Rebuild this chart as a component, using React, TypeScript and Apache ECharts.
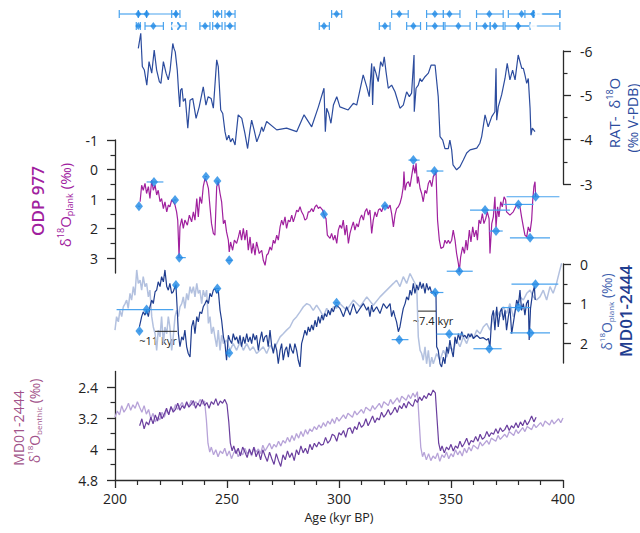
import React, { useEffect, useRef } from 'react';
import * as echarts from 'echarts';

// ---------- DATA ----------
// RAT speleothem δ18O (kyr BP, ‰)
const ratD18O: number[][] = [
  [210.4,-6.06],[211.5,-6.4],[212.2,-5.65],[213.1,-5.57],[214.2,-5.23],[215.2,-5.76],[216.4,-5.5],[217.5,-6.02],[218.6,-5.57],[219.8,-5.31],[220.5,-5.27],[221.6,-5.76],[222.8,-5.5],[223.8,-5.35],[224.6,-5.57],[225.8,-6.17],[226.3,-6.06],[226.9,-5.98],[227.8,-5.57],[228.4,-5.08],[228.9,-4.74],[229.3,-5.12],[229.9,-5.16],[230.5,-4.86],[231.4,-4.93],[232.5,-4.26],[233.5,-4.89],[234.7,-4.93],[236.2,-4.48],[237.6,-4.74],[239.4,-5.19],[240.6,-4.78],[241.6,-4.97],[242.9,-4.93],[243.9,-4.71],[245.4,-5.8],[246.1,-5.65],[247.2,-4.67],[248.1,-4.59],[249.1,-4.18],[249.9,-3.99],[250.8,-4.1],[251.6,-3.95],[252.5,-4.03],[253.6,-3.88],[255,-4.56],[256.6,-4.48],[258,-4.14],[259.2,-3.8],[260.3,-4.22],[261,-4.44],[262.1,-4.22],[263.3,-3.95],[264.7,-4.14],[265.5,-4.29],[266.2,-4.18],[267.7,-4.41],[272.2,-4.22],[276.6,-4.26],[281.1,-4.18],[284.4,-4.56],[287.8,-4.29],[290.8,-4.74],[293.3,-5.16],[293.9,-4.18],[294.5,-4.71],[295.4,-4.59],[296.4,-4.37],[297.5,-4.78],[299,-4.97],[300.4,-4.74],[304.1,-4.67],[306.4,-4.82],[307.9,-4.78],[310.8,-5.46],[312.4,-5.19],[313.5,-4.97],[314.6,-5.72],[315,-4.78],[315.6,-5.65],[316.5,-5.5],[317.5,-5.31],[318.6,-5.76],[319.5,-5.65],[320.2,-5.87],[321,-5.53],[322,-5.16],[323.5,-5.23],[325,-5.08],[327.2,-4.71],[328.7,-4.78],[330.2,-5.08],[331.4,-4.97],[332.4,-5.05],[333.5,-5.91],[333.6,-4.63],[334.4,-5.16],[335.4,-5.23],[336.2,-5.38],[336.9,-5.31],[338.4,-5.42],[339.9,-5.5],[341.1,-5.68],[342.9,-5.68],[344.3,-4.97],[345.1,-4.07],[346.3,-3.99],[347.3,-3.8],[348.8,-3.8],[349.5,-3.99],[350.3,-3.77],[350.9,-3.43],[352.5,-3.32],[354,-3.39],[355.5,-3.54],[357,-3.7],[358.5,-3.77],[361.5,-3.81],[362.9,-3.92],[363.7,-4.07],[365.2,-4.56],[366.6,-4.29],[368.2,-4.52],[369.6,-4.63],[370.1,-5.61],[370.4,-4.44],[371.1,-4.74],[372.6,-5.01],[374.1,-5.38],[375.1,-5.72],[376.3,-5.35],[377.5,-5.57],[378.6,-5.35],[380,-5.91],[381.6,-5.61],[382.3,-5.61],[383,-5.46],[383.8,-5.27],[384.5,-5.38],[385.3,-4.71],[385.7,-4.1],[386.3,-4.26],[387.5,-4.18]
];

// ODP 977 planktonic δ18O
const odpPlank: number[][] = [
  [211.2,1.09],[211.9,0.53],[212.6,0.7],[213.4,0.47],[214.1,0.81],[214.9,0.58],[215.6,0.98],[216.4,0.36],[217.1,0.7],[217.9,0.53],[218.6,0.86],[219.3,0.7],[220.1,1.09],[220.8,0.98],[221.6,1.32],[222.3,1.09],[223.1,1.43],[223.8,1.2],[224.5,1.26],[225.3,1.03],[226,1.09],[226.8,1.2],[227.5,1.43],[228,1.71],[228.6,2.96],[229,1.94],[229.8,1.66],[230.5,1.99],[231.2,1.71],[232.3,1.88],[233.2,1.54],[234.2,1.77],[235,1.43],[235.7,1.71],[236.5,0.98],[237.2,1.6],[237.9,0.92],[238.7,1.15],[239.4,0.58],[240.2,0.3],[240.9,0.41],[241.7,0.64],[242.4,1.26],[243.1,1.83],[243.9,2.16],[244.6,2.22],[245.4,0.58],[246.1,0.41],[246.9,0.81],[247.6,1.09],[248.4,1.83],[249.1,1.71],[249.8,2.11],[250.6,2.39],[251,2.79],[251.6,2.45],[252.5,2.73],[253.3,2.39],[254.3,2.5],[255.1,2.28],[255.8,2.05],[256.5,2.39],[257.3,1.99],[258,2.39],[258.8,2.05],[259.5,2.73],[260.3,2.28],[261,2.84],[261.7,2.5],[262.5,2.9],[263.2,2.45],[264.4,2.84],[265.5,2.73],[266.2,3.07],[267,3.24],[267.7,2.9],[268.4,2.84],[269.2,2.62],[269.9,2.73],[270.7,2.39],[271.4,2.5],[272.2,2.22],[272.9,2.39],[273.7,1.94],[274.4,1.71],[275.1,1.88],[275.9,1.6],[276.6,1.99],[277.4,1.71],[278.1,1.77],[278.9,1.54],[279.6,1.77],[280.3,1.6],[281.1,1.37],[281.8,1.43],[282.6,1.26],[283.3,1.43],[284.1,1.54],[284.8,1.71],[285.6,1.66],[286.3,1.43],[287,1.43],[287.8,1.32],[288.5,1.43],[289.3,1.26],[290,1.2],[290.8,1.32],[291.5,1.26],[292.7,1.37],[293.3,1.54],[294.2,1.66],[294.8,2.22],[296,2.33],[296.7,2.16],[297.5,2.39],[298.2,2.22],[299,2.5],[299.7,2.05],[300.4,1.88],[301.2,1.99],[301.9,1.71],[302.7,2.22],[303.4,1.88],[304.2,2.5],[304.9,2.16],[305.7,1.94],[306.4,1.77],[307.1,2.05],[307.9,1.83],[308.6,1.94],[309.4,1.66],[310.1,1.54],[310.9,1.71],[311.6,1.43],[312.4,1.32],[313.1,1.54],[313.8,1.37],[314.6,2.16],[315.3,1.71],[316.1,1.43],[316.8,1.6],[317.6,1.37],[318.3,1.32],[319,1.43],[319.8,1.26],[321,1.2],[322,1.32],[322.8,1.2],[323.5,1.49],[324.3,1.94],[325,1.54],[325.7,1.32],[326.5,1.26],[327.2,1.15],[328,0.92],[328.7,0.58],[329,0.07],[329.5,0.7],[330.2,0.47],[331,0.41],[331.7,0.58],[332.4,0.24],[333.2,-0.15],[333.9,0.13],[334.4,-0.21],[335,0.47],[335.4,0.24],[336.2,0.64],[336.9,0.81],[337.6,1.09],[338.4,0.7],[339.1,0.81],[339.9,0.47],[340.6,0.36],[341.4,0.58],[342.1,0.24],[342.9,0.13],[343.3,0.07],[343.6,0.81],[344,1.71],[344.8,2.39],[345.5,2.67],[346.6,2.62],[347.3,2.39],[348.1,2.5],[348.8,2.39],[349.5,2.5],[350.3,2.39],[351,2.05],[351.8,2.39],[352.5,2.84],[353.3,3.18],[353.7,3.46],[354.3,2.96],[355.2,2.62],[356,2.84],[356.7,2.39],[357.3,2.73],[358.2,2.05],[358.9,2.45],[359.7,1.94],[360.4,2.28],[361.2,2.05],[361.8,2.39],[362.5,1.71],[363.2,1.83],[364,1.49],[364.7,1.83],[365.5,1.66],[366.2,1.43],[367,1.66],[367.4,2.84],[368.2,1.83],[368.9,1.6],[369.6,0.92],[370.1,1.94],[370.8,1.26],[371.4,1.6],[372.2,1.09],[372.9,1.26],[373.7,0.92],[374.4,1.03],[374.8,1.43],[376.3,1.54],[377.8,1.43],[379.3,1.2],[380.8,1.26],[381.5,1.6],[382.3,1.94],[383,2.22],[383.8,2.28],[384.5,1.94],[385.3,2.11],[386,1.71],[386.5,1.03],[387,0.58],[387.5,0.41],[387.8,0.92]
];

// ODP 977 tie points: [age, δ18O, ageLow, ageHigh]
const odpTies: number[][] = [
  [210.7,1.24,210.2,211.2],[217.4,0.42,214.1,221.6],[226.8,1.03,226.2,227.4],[228.7,2.98,227.8,231.6],[240.6,0.24,240.1,241.1],[245.7,0.39,245.0,246.4],[251.0,3.07,249.8,252.4],[293.3,1.51,292.6,294.0],
  [320.5,1.23,319.6,321.4],[333.2,-0.32,331.0,336.0],[342.6,0.05,339.1,346.6],[353.7,3.44,348.1,359.7],[365.2,1.37,358.5,376.3],[370.1,2.08,367.1,373.1],[380.1,1.18,373.4,386.8],[385.3,2.31,376.3,394.2],[387.8,0.92,374.8,398.4]
];

// MD01-2444 planktonic δ18O (final age model, dark)
const mdPlank: number[][] = [
  [210.9,1.59],[211.9,1.33],[212.6,1.21],[213.4,1.29],[214.1,1.17],[214.9,1.33],[215.6,1.08],[216.4,0.91],[217.1,1.0],[217.9,0.7],[218.6,0.66],[219.3,0.45],[220.1,0.57],[220.8,0.32],[221.6,0.45],[222.3,0.15],[223.1,0.57],[223.8,0.66],[224.5,0.49],[225.3,0.74],[226,0.7],[226.8,0.57],[227.2,0.53],[227.8,1.17],[228.3,1.76],[229,2.09],[229.8,1.84],[230.5,1.92],[231.2,1.67],[232,2.09],[232.7,2.26],[233.5,2.35],[234.2,1.59],[235,1.42],[235.7,1.76],[236.5,1.33],[237.2,1.46],[237.9,1.21],[238.7,1.25],[239.4,1.08],[240.2,1.0],[240.9,0.91],[241.7,1.0],[242.4,0.74],[243.1,0.83],[243.9,0.66],[244.6,0.62],[245.4,0.74],[246.1,0.66],[246.9,1.17],[247.6,1.42],[248.4,1.84],[249.1,2.01],[249.8,2.43],[250.6,1.8],[251.3,1.92],[252.1,2.01],[252.8,1.76],[253.6,1.92],[254.3,1.84],[255.1,2.01],[255.8,1.8],[256.5,2.09],[257.3,1.84],[258,2.01],[258.8,1.76],[259.5,1.97],[260.3,1.84],[261,2.01],[261.7,1.76],[262.5,1.92],[263.2,1.8],[264,2.18],[264.7,1.92],[265.5,1.71],[266.2,1.97],[266.9,1.84],[267.7,1.8],[268.4,2.09],[269.2,1.67],[269.9,2.05],[270.7,2.26],[271.4,2.01],[272.2,2.18],[272.9,2.52],[273.7,2.18],[274.4,2.01],[275.1,2.43],[275.9,2.18],[276.6,2.09],[277.4,2.35],[278.1,2.01],[278.9,2.18],[279.6,2.26],[280.3,2.01],[281.1,2.18],[281.8,2.43],[282.6,2.6],[283.3,2.01],[284.1,1.84],[284.8,1.67],[285.6,1.8],[286.3,1.59],[287,1.71],[287.8,1.54],[288.5,1.67],[289.3,1.42],[290,1.59],[290.8,1.33],[291.5,1.5],[292.3,1.29],[293,1.42],[293.7,1.25],[294.5,1.33],[295.2,1.17],[296,1.29],[296.7,1.12],[297.5,1.21],[298.2,1.08],[298.9,1.04],[300.4,1.12],[302,1.33],[303.4,1.08],[304.9,1.29],[306.4,1.0],[307.9,1.25],[309.4,1.12],[310.9,1.0],[312.4,1.17],[313.1,1.08],[313.8,1.33],[314.6,1.04],[315.3,1.21],[316.8,1.08],[318.3,1.25],[319.8,1.0],[321.3,1.12],[322.8,1.0],[323.5,1.33],[324.3,1.17],[325,1.33],[325.7,1.46],[326.5,1.71],[327.2,1.59],[328,1.33],[328.7,1.12],[329.5,1.0],[330.2,0.83],[331,0.91],[331.7,0.66],[332.4,0.79],[333.2,0.49],[333.9,0.74],[334.7,0.53],[335.4,0.66],[336.2,0.45],[336.9,0.62],[337.6,0.49],[338.4,0.74],[339.1,0.49],[339.9,0.66],[340.6,0.57],[341.4,0.74],[342.1,0.7],[342.9,0.74],[343.3,0.79],[343.6,2.09],[344.3,2.18],[345.1,2.52],[345.8,2.6],[346.6,2.35],[347.3,2.52],[348.1,2.09],[348.8,2.26],[349.5,1.92],[350.3,2.18],[351,2.35],[351.8,1.84],[352.5,2.01],[353.3,1.76],[354,1.92],[354.8,1.71],[355.5,1.84],[356.2,1.8],[357,1.88],[357.7,1.76],[358.5,1.84],[359.2,1.76],[360,1.88],[361.5,1.8],[363,1.88],[364.4,1.86],[365.9,1.92],[366.7,1.88],[367.4,2.09],[368.2,1.33],[368.9,1.17],[369.6,1.67],[370.4,1.08],[371.1,1.59],[371.9,1.21],[372.6,1.12],[373.4,1.42],[374.1,1.17],[374.8,1.67],[375.6,1.33],[376.3,1.08],[377.1,1.76],[377.8,1.5],[378.6,1.21],[379.3,0.91],[380.1,1.04],[380.8,0.66],[381.5,1.17],[382.3,1.0],[383,1.29],[383.7,1.0],[384.5,0.91],[384.9,1.92],[385.5,1.12],[386.4,0.74],[387.2,0.57],[387.6,0.91]
];

// MD01-2444 planktonic δ18O (initial age model, light)
const mdPlankAlt: number[][] = [
  [200,1.67],[200.7,1.33],[201.5,1.46],[202.2,1.17],[203,1.33],[203.7,1.08],[204.5,1.0],[205.2,0.91],[205.9,1.12],[206.7,0.74],[207.4,0.91],[208.2,0.57],[208.9,0.79],[209.7,0.15],[210.4,0.49],[211.2,0.41],[211.9,0.66],[212.6,0.32],[213.4,0.57],[214.1,0.49],[214.9,0.83],[215.6,0.66],[216.4,1.33],[217.1,1.59],[217.9,1.76],[218.6,2.18],[219.3,1.67],[220.1,1.84],[220.8,1.33],[221.6,2.01],[222.3,1.59],[223.1,1.76],[223.8,1.33],[224.5,1.59],[225.3,2.18],[226,1.84],[226.8,1.33],[227.5,1.17],[228.3,1.33],[229,1.08],[229.8,1.0],[230.5,0.83],[231.2,1.12],[232,0.74],[232.7,0.91],[233.5,0.57],[234.2,0.74],[235,0.57],[235.7,0.83],[236.5,0.49],[237.2,0.74],[237.9,0.66],[238.7,1.0],[239.4,0.66],[240.2,0.83],[240.9,0.66],[241.7,1.5],[242.4,1.33],[243.1,1.76],[243.9,1.59],[244.6,1.84],[245.4,2.09],[246.1,1.67],[246.9,2.18],[247.6,1.8],[248.4,2.01],[249.8,1.92],[251.3,2.18],[252.8,2.01],[254.3,2.18],[255.8,1.97],[257.3,2.18],[258.8,2.01],[260.3,2.18],[261.7,2.09],[263.2,2.26],[264.7,2.18],[266.2,2.09],[267.7,2.26],[269.2,2.05],[270.7,2.18],[272.2,2.01],[273.7,1.84],[275.1,1.76],[276.6,1.67],[278.1,1.59],[279.6,1.42],[281.1,1.33],[282.6,1.21],[284.1,1.08],[285.6,1.0],[287,1.04],[288.5,1.17],[290,1.04],[291.5,1.17],[293,1.33],[294.5,1.12],[296,1.25],[297.5,1.08],[298.9,1.12],[300.4,1.0],[303.4,1.17],[306.4,0.91],[309.4,1.08],[312.4,0.83],[315.3,1.04],[318.3,0.83],[321.3,0.66],[324.3,0.49],[325.7,0.41],[327.2,0.57],[328.7,0.32],[330.2,0.49],[331.7,0.24],[333.2,0.41],[334.7,0.57],[335.4,1.84],[336.2,2.18],[336.9,2.26],[337.6,2.43],[338.4,2.09],[339.1,2.52],[339.9,2.18],[340.6,2.6],[341.4,2.35],[342.1,2.52],[343.6,2.26],[345.1,2.43],[346.6,2.18],[348.1,2.35],[349.5,2.09],[351,2.18],[352.5,1.92],[354,2.09],[355.5,1.84],[357,2.01],[358.5,1.76],[360,1.88],[361.5,1.67],[363,1.76],[364.4,1.59],[365.9,1.5],[367.4,1.67],[368.9,1.33],[370.4,1.17],[371.9,1.33],[373.4,1.08],[374.8,1.25],[376.3,1.0],[377.8,1.33],[379.3,1.08],[380.8,0.83],[382.3,0.91],[383.8,0.74],[385.3,0.66],[386.8,0.83],[388.2,0.91],[389.7,0.83],[391.2,0.66],[392.7,0.91],[394.2,0.57],[395.6,0.74],[397.1,0.49],[398.6,0.15],[399.4,-0.02]
];

// MD01-2444 planktonic tie points: [age, δ18O, ageLow, ageHigh]
const mdTies: number[][] = [
  [210.9,1.69,210.5,211.3],[214.1,1.15,200.7,226.0],[227.2,0.53,226.8,227.6],[245.7,0.62,245.0,246.6],[251.0,2.25,250.4,251.6],[298.9,0.98,298.2,299.8],
  [326.9,1.91,323.5,331.0],[342.9,0.72,340.6,346.6],[349.2,1.77,343.6,355.5],[367.1,2.14,360.0,372.6],[380.1,1.1,372.6,385.3],[385.5,1.74,376.3,394.2],[387.7,0.51,377.0,397.9]
];

// MD01-2444 benthic δ18O (dark = final, light = initial age model)
const benthic: number[][] = [
  [211,3.40],[212,3.22],[213,3.48],[214,3.30],[215,3.38],[216,3.18],[217,3.35],[218,3.12],[219,3.28],[220,3.05],[221,3.22],[222,3.10],[223,2.95],[224,3.12],[225,2.90],[226,3.05],[227,2.98],[228,2.82],[229,3.00],[230,2.88],[231,2.95],[232,2.78],[233,2.92],[234,2.85],[235,2.75],[236,2.95],[237,2.82],[238,2.90],[239,2.72],[240,2.88],[241,2.80],[242,2.95],[243,2.78],[244,2.85],[245,2.70],[246,2.88],[247,2.76],[248,2.82],[249,2.72],[250,2.85],[250.8,3.30],[251.5,3.85],[252.3,4.05],[253,3.92],[254,4.12],[255,3.98],[256,4.18],[257,3.95],[258,4.08],[259,4.22],[260,4.00],[261,4.15],[262,3.95],[263,4.20],[264,4.05],[265,4.28],[266,4.02],[267,4.18],[268,4.32],[269,4.08],[270,4.25],[271,4.40],[272,4.12],[273,4.30],[274,4.45],[275,4.15],[276,4.28],[277,4.05],[278,4.22],[279,4.10],[280,4.30],[281,4.02],[282,4.15],[283,3.92],[284,4.10],[285,3.98],[286,4.12],[287,3.88],[288,4.02],[289,3.85],[290,3.95],[291,3.82],[292,3.90],[293,3.88],[294,3.70],[295,3.85],[296,3.78],[297,3.62],[298,3.66],[299,3.80],[300,3.58],[301,3.64],[302,3.52],[303,3.70],[304,3.48],[305,3.45],[306,3.60],[307,3.42],[308,3.50],[309,3.30],[310,3.44],[311,3.38],[312,3.22],[313,3.40],[314,3.28],[315,3.15],[316,3.32],[317,3.20],[318,3.25],[319,3.05],[320,3.18],[321,3.10],[322,2.98],[323,3.12],[324,3.04],[325,2.92],[326,3.06],[327,2.88],[328,2.96],[329,2.82],[330,2.94],[331,2.78],[332,2.85],[333,2.90],[334,2.72],[335,2.80],[336,2.66],[337,2.75],[338,2.62],[339,2.70],[340,2.56],[341,2.62],[342,2.48],[343,2.55],[343.8,3.25],[344.5,3.85],[345.3,4.05],[346,3.92],[347,4.10],[348,3.95],[349,4.02],[350,3.88],[351,4.05],[352,3.92],[353,3.98],[354,3.80],[355,3.95],[356,3.85],[357,3.72],[358,3.90],[359,3.78],[360,3.82],[361,3.68],[362,3.80],[363,3.62],[364,3.75],[365,3.70],[366,3.55],[367,3.68],[368,3.58],[369,3.62],[370,3.48],[371,3.60],[372,3.45],[373,3.55],[374,3.50],[375,3.38],[376,3.52],[377,3.40],[378,3.46],[379,3.32],[380,3.45],[381,3.30],[382,3.40],[383,3.25],[384,3.38],[385,3.28],[386,3.15],[387,3.30],[388,3.18]
];
const benthicAlt: number[][] = [
  [200,3.18],[201,3.02],[202,3.12],[203,2.88],[204,3.05],[205,2.96],[206,2.82],[207,3.0],[208,2.86],[209,2.95],[210,2.78],[211,2.92],[212,3.05],[213,2.88],[214,3.10],[215,2.98],[216,3.22],[217,3.08],[218,3.30],[219,3.18],[220,3.25],[221,3.05],[222,3.18],[223,3.0],[224,3.10],[225,2.92],[226,3.02],[227,2.85],[228,2.98],[229,2.88],[230,2.80],[231,2.95],[232,2.82],[233,2.90],[234,2.74],[235,2.88],[236,2.78],[237,2.85],[238,2.72],[239,2.84],[240,2.76],[240.8,3.25],[241.5,3.85],[242.3,4.08],[243,3.95],[244,4.15],[245,4.02],[246,4.20],[247,4.05],[248,4.12],[249,3.98],[250,4.18],[251,4.05],[252,4.25],[253,4.10],[254,4.02],[255,4.20],[256,4.08],[257,4.15],[258,3.98],[259,4.12],[260,4.05],[261,4.18],[262,3.95],[263,4.08],[264,4.0],[265,4.12],[266,3.90],[267,4.05],[268,3.95],[269,3.85],[270,4.0],[271,3.88],[272,3.95],[273,3.80],[274,3.92],[275,3.78],[276,3.85],[277,3.70],[278,3.82],[279,3.65],[280,3.78],[281,3.60],[282,3.72],[283,3.55],[284,3.68],[285,3.50],[286,3.62],[287,3.48],[288,3.55],[289,3.42],[290,3.50],[291,3.38],[292,3.46],[293,3.32],[294,3.42],[295,3.28],[296,3.36],[297,3.22],[298,3.34],[299,3.18],[300,3.28],[302,3.12],[303,3.22],[304,3.08],[306,3.18],[307,3.02],[308,3.12],[310,2.98],[311,3.08],[312,2.92],[314,3.02],[315,2.88],[316,2.98],[318,2.82],[319,2.94],[320,2.78],[322,2.88],[323,2.72],[324,2.84],[326,2.68],[327,2.80],[328,2.64],[330,2.74],[331,2.60],[332,2.70],[333,2.56],[334,2.66],[335,2.52],[335.8,3.3],[336.5,3.95],[337.3,4.20],[338,4.08],[339,4.28],[340,4.12],[341,4.30],[342,4.18],[343,4.25],[344,4.10],[345,4.32],[346,4.15],[347,4.22],[348,4.08],[349,4.25],[350,4.12],[351,4.20],[352,4.02],[353,4.15],[354,4.05],[355,4.18],[356,3.98],[357,4.10],[358,3.95],[359,4.05],[360,3.90],[362,4.0],[363,3.82],[364,3.92],[366,3.78],[367,3.88],[368,3.72],[370,3.80],[371,3.65],[372,3.75],[374,3.62],[375,3.70],[376,3.55],[378,3.65],[379,3.50],[380,3.60],[382,3.45],[383,3.55],[384,3.42],[386,3.50],[387,3.36],[388,3.45],[390,3.32],[391,3.42],[392,3.28],[394,3.38],[395,3.25],[396,3.35],[398,3.22],[399,3.32],[400,3.20]
];

// Dating points along the top: [age, ageLow, ageHigh, open(1)/filled(0)]
const datesRow1: number[][] = [
  [210.4,201.9,214.1,0],[214.1,210.4,227.2,0],[227.2,225.3,229.0,0],[245.7,243.9,247.6,0],[251.0,249.1,253.6,0],[298.9,296.7,301.2,0],[326.9,323.5,330.9,0],[342.8,339.1,346.6,0],[349.3,346.6,354.0,0],[367.1,361.4,373.3,0],[381.5,375.6,387.0,0],[386.7,383.0,398.6,0],[389.0,386.7,398.6,1]
];
const datesRow2: number[][] = [
  [210.4,209.5,211.3,0],[217.1,213.4,221.6,0],[226.8,225.3,228.0,1],[228.3,225.5,231.7,0],[240.2,237.9,242.4,0],[245.7,243.6,247.8,0],[251.3,249.1,253.6,0],[293.3,291.2,295.7,0],[320.5,318.0,322.8,0],[333.2,330.2,336.4,0],[342.8,339.1,346.6,0],[353.3,347.3,358.5,0],[365.2,361.4,367.5,0],[369.6,367.5,373.3,0],[380.0,374.1,385.3,0],[386.7,380.0,398.6,1]
];

// Lag annotations: [age, δ18O level]
const lag11: number[][] = [[217.9,1.7],[227.7,1.7]];
const lag74: number[][] = [[335.3,1.19],[343.3,1.19]];

// ---------- STYLE ----------
const FONT = "'Open Sans', 'Noto Sans', sans-serif";
const AXIS = '#2b2b2b';
const C_RAT = '#2c4c9e';
const C_ODP = '#a0209e';
const C_MD = '#1f3d8f';
const C_MD_ALT = '#b3c1df';
const C_BEN = '#6a3e9e';
const C_BEN_ALT = '#b7a3d8';
const C_TIE = '#1e88e5';
const C_BAR = '#4aa3ee';
const C_BEN_LABEL = '#a2538a';

const X_MIN = 200, X_MAX = 400;
const L = 115, R = 77;

function errBars(xi: number, data: number[][], color: string, caps: number) {
  return {
    type: 'custom', xAxisIndex: xi, yAxisIndex: xi, clip: false, z: 3,
    data, encode: { x: [0, 1], y: 2 },
    renderItem: (params: any, api: any) => {
      const y = api.value(2);
      const a = api.coord([api.value(0), y]);
      const b = api.coord([api.value(1), y]);
      const children: any[] = [
        { type: 'line', shape: { x1: a[0], y1: a[1], x2: b[0], y2: b[1] }, style: { stroke: color, lineWidth: 1.2 } }
      ];
      if (caps > 0) {
        children.push({ type: 'line', shape: { x1: a[0], y1: a[1] - caps, x2: a[0], y2: a[1] + caps }, style: { stroke: color, lineWidth: 1.2 } });
        children.push({ type: 'line', shape: { x1: b[0], y1: b[1] - caps, x2: b[0], y2: b[1] + caps }, style: { stroke: color, lineWidth: 1.2 } });
      }
      return { type: 'group', children };
    }
  };
}

function lineSeries(i: number, data: number[][], color: string, width: number, z: number) {
  return {
    type: 'line', xAxisIndex: i, yAxisIndex: i, data, showSymbol: false, symbol: 'none', clip: false,
    lineStyle: { color, width }, z, silent: true
  };
}

function rotText(x: number, y: number, text: string, rich: any, fill: string) {
  return {
    type: 'text', x, y, rotation: Math.PI / 2, silent: true,
    style: { text, rich, fill, align: 'center', verticalAlign: 'middle', fontFamily: FONT }
  };
}

function deltaRich(size: number, color: string, weight: any = 'normal') {
  return {
    d: { fontSize: size, fontFamily: FONT, fill: color, fontWeight: weight },
    sup: { fontSize: Math.round(size * 0.6), fontFamily: FONT, fill: color, padding: [0, 0, 9, 0] },
    sub: { fontSize: Math.round(size * 0.6), fontFamily: FONT, fill: color, padding: [9, 0, 0, 0] }
  };
}

export default function App() {
  const ref = useRef<HTMLDivElement>(null);
  useEffect(() => {
    if (!ref.current) return;
    const chart = echarts.init(ref.current, null, { renderer: 'svg' });

    const grids = [
      { top: 8, height: 24 },     // 0 dating rows
      { top: 51, height: 133 },   // 1 RAT
      { top: 140, height: 133 },  // 2 ODP line
      { top: 140, height: 118 },  // 3 ODP ticks
      { top: 264, height: 99 },   // 4 MD plank line
      { top: 264, height: 79 },   // 5 MD plank ticks
      { top: 371.5, height: 108.5 }, // 6 benthic line + x axis
      { top: 387, height: 93 }    // 7 benthic ticks
    ].map(g => ({ ...g, left: L, right: R, containLabel: false }));

    const xAxes = grids.map((_, i) => {
      const base: any = { type: 'value', gridIndex: i, min: X_MIN, max: X_MAX, splitLine: { show: false } };
      if (i !== 6) return { ...base, show: false };
      return {
        ...base, interval: 50, position: 'bottom',
        axisLine: { show: true, onZero: false, lineStyle: { color: AXIS, width: 1.3 } },
        axisTick: { show: true, length: 8, lineStyle: { color: AXIS, width: 1.3 } },
        minorTick: { show: true, splitNumber: 5, length: 5, lineStyle: { color: AXIS, width: 1.2 } },
        axisLabel: { fontSize: 14, color: '#222', margin: 11, fontFamily: FONT },
        name: 'Age (kyr BP)', nameLocation: 'middle', nameGap: 31,
        nameTextStyle: { fontSize: 12.5, color: '#222', fontFamily: FONT }
      };
    });

    const lineOnly = (gi: number, pos: string, min: number, max: number) => ({
      type: 'value', gridIndex: gi, position: pos, min, max, inverse: true,
      axisLine: { show: true, onZero: false, lineStyle: { color: AXIS, width: 1.3 } },
      axisTick: { show: false }, axisLabel: { show: false }, splitLine: { show: false }
    });
    const tickAxis = (gi: number, pos: string, min: number, max: number, interval: number, line: boolean) => ({
      type: 'value', gridIndex: gi, position: pos, min, max, interval, inverse: true,
      axisLine: { show: line, onZero: false, lineStyle: { color: AXIS, width: 1.3 } },
      axisTick: { show: true, length: 8, lineStyle: { color: AXIS, width: 1.3 } },
      minorTick: { show: true, splitNumber: 2, length: 4.5, lineStyle: { color: AXIS, width: 1.2 } },
      axisLabel: { fontSize: 14, color: '#222', margin: 17, fontFamily: FONT },
      splitLine: { show: false }
    });

    const yAxes: any[] = [
      { type: 'value', gridIndex: 0, min: 0, max: 2, show: false },
      tickAxis(1, 'right', -6, -3, 1, true),
      lineOnly(2, 'left', -1, 3.5),
      tickAxis(3, 'left', -1, 3, 1, false),
      lineOnly(4, 'right', 0, 2.5),
      tickAxis(5, 'right', 0, 2, 1, false),
      lineOnly(6, 'left', 2.0, 4.8),
      tickAxis(7, 'left', 2.4, 4.8, 0.8, false)
    ];

    const rowData = (rows: number[][], y: number) => rows.map(r => [r[1], r[2], y]);
    const rowPts = (rows: number[][], y: number, open: number) => rows.filter(r => r[3] === open).map(r => [r[0], y]);
    const tieBars = (t: number[][]) => t.map(r => [r[2], r[3], r[1]]);
    const tiePts = (t: number[][]) => t.map(r => [r[0], r[1]]);

    const diamond = (i: number, data: number[][], size: number, empty = false) => ({
      type: 'scatter', xAxisIndex: i, yAxisIndex: i, data, symbol: empty ? 'emptyDiamond' : 'diamond',
      symbolSize: [size, size + 2], clip: false, z: 5, silent: true,
      itemStyle: { color: C_TIE, borderColor: C_TIE, borderWidth: empty ? 1.3 : 0 }
    });

    const series: any[] = [
      errBars(0, rowData(datesRow1, 1.5), C_BAR, 4),
      errBars(0, rowData(datesRow2, 0.5), C_BAR, 4),
      diamond(0, rowPts(datesRow1, 1.5, 0), 6),
      diamond(0, rowPts(datesRow2, 0.5, 0), 6),
      { ...diamond(0, rowPts(datesRow1, 1.5, 1), 6, true), itemStyle: { color: '#fff', borderColor: C_TIE, borderWidth: 1.3 } },
      { ...diamond(0, rowPts(datesRow2, 0.5, 1), 6, true), itemStyle: { color: '#fff', borderColor: C_TIE, borderWidth: 1.3 } },
      lineSeries(1, ratD18O, C_RAT, 1.2, 2),
      lineSeries(2, odpPlank, C_ODP, 1.2, 2),
      errBars(2, tieBars(odpTies), C_BAR, 0),
      diamond(2, tiePts(odpTies), 8),
      lineSeries(4, mdPlankAlt, C_MD_ALT, 1.5, 1),
      lineSeries(4, mdPlank, C_MD, 1.2, 2),
      errBars(4, tieBars(mdTies), C_BAR, 0),
      diamond(4, tiePts(mdTies), 8),
      lineSeries(4, lag11, '#222', 1, 4),
      lineSeries(4, lag74, '#222', 1, 4),
      lineSeries(6, benthicAlt, C_BEN_ALT, 1.3, 1),
      lineSeries(6, benthic, C_BEN, 1.2, 2)
    ];

    const graphic: any[] = [
      rotText(37, 201, '{t|ODP 977}', { t: { fontSize: 17, fontWeight: 600, fill: C_ODP, fontFamily: FONT } }, C_ODP),
      rotText(65, 205, '{d|δ}{sup|18}{d|O}{sub|plank}{d| (‰)}', deltaRich(15, C_ODP), C_ODP),
      rotText(614, 113, '{d|RAT-  δ}{sup|18}{d|O}', deltaRich(15, C_RAT), C_RAT),
      rotText(632, 118, '{d|(‰ V-PDB)}', { d: { fontSize: 14, fill: C_RAT, fontFamily: FONT } }, C_RAT),
      rotText(606, 312, '{d|δ}{sup|18}{d|O}{sub|plank}{d| (‰)}', deltaRich(14, '#3f5fae'), '#3f5fae'),
      rotText(625, 311, '{t|MD01-2444}', { t: { fontSize: 17, fontWeight: 600, fill: C_MD, fontFamily: FONT } }, C_MD),
      rotText(18, 428, '{t|MD01-2444}', { t: { fontSize: 14, fill: C_BEN_LABEL, fontFamily: FONT } }, C_BEN_LABEL),
      rotText(34, 421, '{d|δ}{sup|18}{d|O}{sub|benthic}{d| (‰)}', deltaRich(14, C_BEN_LABEL), C_BEN_LABEL),
      { type: 'text', x: 158, y: 340, silent: true, style: { text: '~11 kyr', fontSize: 11, fill: '#222', fontFamily: FONT, align: 'center', verticalAlign: 'middle' } },
      { type: 'text', x: 433, y: 320, silent: true, style: { text: '~7.4 kyr', fontSize: 11, fill: '#222', fontFamily: FONT, align: 'center', verticalAlign: 'middle' } }
    ];

    chart.setOption({
      animation: false,
      backgroundColor: '#fff',
      grid: grids,
      xAxis: xAxes,
      yAxis: yAxes,
      series,
      graphic
    });
    return () => chart.dispose();
  }, []);

  return <div ref={ref} style={{ position: 'fixed', left: 0, top: 0, width: 640, height: 533, background: '#fff' }} />;
}
